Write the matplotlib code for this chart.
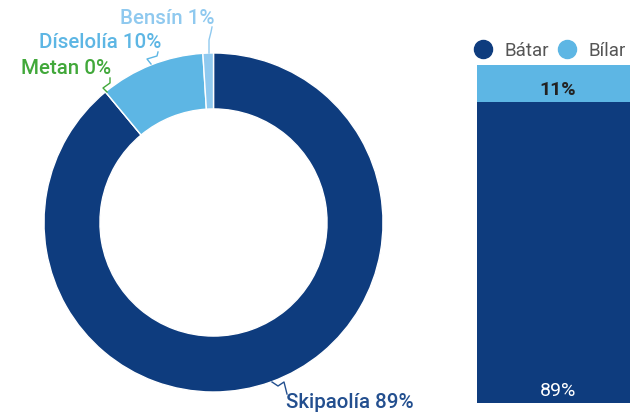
"""Kleinuhringur (orkugjafar) og staflað súlurit (bátar/bílar)."""

import matplotlib
matplotlib.use("Agg")
import matplotlib.pyplot as plt
from matplotlib.lines import Line2D

plt.rcParams["font.family"] = ["Roboto", "DejaVu Sans"]

W, H = 630, 413

# gögn
fuel_labels = ["Skipaolía", "Metan", "Díselolía", "Bensín"]
fuel_values = [89, 0, 10, 1]
fuel_colors = ["#0e3c7e", "#3daa35", "#5db6e4", "#8fc9ef"]
label_colors = ["#234f8f", "#41a83a", "#5db6e4", "#8fc9ef"]

bar_labels = ["Bátar", "Bílar"]
bar_values = [89, 11]
bar_colors = ["#0e3c7e", "#5db6e4"]

fig = plt.figure(figsize=(W / 100, H / 100), dpi=100)


def px_box(x0, y0, x1, y1):
    # pixel box (y niður) -> figure coords
    return [x0 / W, (H - y1) / H, (x1 - x0) / W, (y1 - y0) / H]


# --- kleinuhringur ---
cx, cy, R = 213.5, 222.5, 169.5
ax = fig.add_axes(px_box(cx - R, cy - R, cx + R, cy + R))
ax.pie(fuel_values, colors=fuel_colors, startangle=90, counterclock=False,
       radius=1, wedgeprops=dict(width=0.33, edgecolor="white", linewidth=1))
ax.set_xlim(-1, 1)
ax.set_ylim(-1, 1)
ax.set_aspect("auto")
ax.axis("off")


def to_fig(px, py):
    return px / W, (H - py) / H


# merkimiðar með leiðarlínum (pixlar)
leaders = {
    "Skipaolía": [(272, 382), (278, 386), (284, 382), (287, 394)],
    "Metan": [(107, 92), (103, 88), (110, 83), (110, 78)],
    "Díselolía": [(151, 64), (147, 59), (157, 56), (158, 52)],
    "Bensín": [(209, 53), (209, 40), (211, 32), (212, 27)],
}
text_pos = {
    "Skipaolía": (286, 402, "left"),
    "Metan": (111, 68, "right"),
    "Díselolía": (161, 43, "right"),
    "Bensín": (214, 18, "right"),
}
for name, val, col in zip(fuel_labels, fuel_values, label_colors):
    pts = leaders[name]
    xs, ys = zip(*[to_fig(*p) for p in pts])
    fig.add_artist(Line2D(xs, ys, color=col, linewidth=1))
    tx, ty, ha = text_pos[name]
    fx, fy = to_fig(tx, ty)
    fig.text(fx, fy, f"{name} {val}%", color=col, fontsize=14.8,
             fontweight="medium", ha=ha, va="center")

# --- staflað súlurit (nær út fyrir myndina) ---
bx = fig.add_axes(px_box(477, 65, 639, 403))
bottom = 0
for lab, val, col in zip(bar_labels, bar_values, bar_colors):
    bx.bar(0, val, bottom=bottom, width=1, color=col)
    if col == bar_colors[0]:
        tcol, wt = "white", "normal"
    else:
        tcol, wt = "#222222", "bold"
    bx.text(0, bottom + 3.6, f"{val}%", color=tcol, fontsize=14,
            fontweight=wt, ha="center", va="center")
    bottom += val
bx.set_xlim(-0.5, 0.5)
bx.set_ylim(0, 100)
bx.axis("off")

handles = [Line2D([], [], marker="o", linestyle="", markersize=13,
                  color=c) for c in bar_colors]
fig.legend(handles, bar_labels, loc="center left",
           bbox_to_anchor=to_fig(474, 51), ncol=2, frameon=False,
           fontsize=13.5, labelcolor="#555555", handlelength=1.0,
           handletextpad=0.6, columnspacing=0.5, borderpad=0,
           borderaxespad=0)

fig.savefig("out.png", dpi=100)
